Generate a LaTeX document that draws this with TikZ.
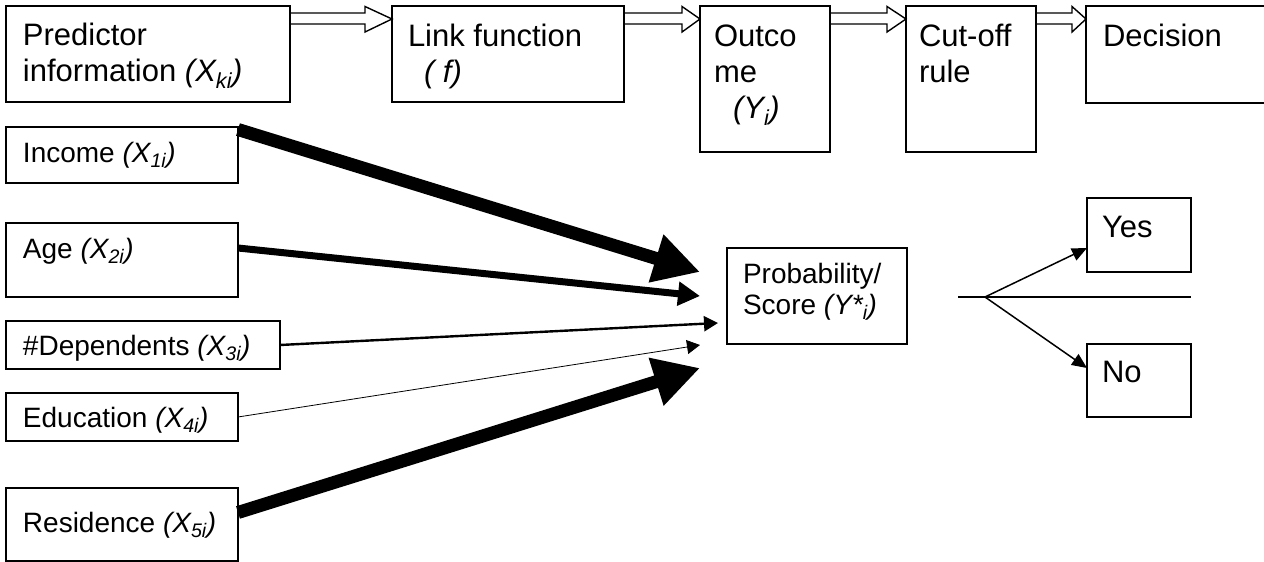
\documentclass[tikz,border=0pt]{standalone}
\usepackage{fontspec}
\setmainfont{Liberation Sans}
\usetikzlibrary{arrows.meta,calc}
\newcommand{\hollowarrow}[3]{%
  \draw[hollow] ($(#1.north east)+(0,7)$) -- ($(#2.north west)+(-#3,7)$)
    -- ($(#2.north west)+(-#3,0.5)$) -- ($(#2.north west)+(0,13)$)
    -- ($(#2.north west)+(-#3,26)$) -- ($(#2.north west)+(-#3,18)$)
    -- ($(#1.north east)+(0,18)$);}
\begin{document}
\begin{tikzpicture}[x=1pt,y=-1pt,
  box/.style={draw, line width=1.4pt, inner sep=0pt, outer sep=0pt, anchor=north west},
  big/.style={font=\fontsize{31}{35}\selectfont},
  small/.style={font=\fontsize{28}{32}\selectfont},
  txt/.style={anchor=base west, inner sep=0pt, outer sep=0pt},
  hollow/.style={draw, line width=1.4pt, line join=miter},
  conn/.style={draw, line join=miter}]
\useasboundingbox (0,0) rectangle (1264,562);

% top row boxes
\node[box, minimum width=284pt, minimum height=96pt] (pred) at (6,6) {};
\node[box, minimum width=232pt, minimum height=96pt] (link) at (392,6) {};
\node[box, minimum width=130pt, minimum height=146pt] (outc) at (700,6) {};
\node[box, minimum width=130pt, minimum height=146pt] (cut) at (906,6) {};
\node[box, minimum width=200pt, minimum height=97pt] (dec) at (1086,6) {};

% predictor boxes
\node[box, minimum width=232pt, minimum height=56pt] (inc) at (6,127) {};
\node[box, minimum width=232pt, minimum height=74pt] (age) at (6,223) {};
\node[box, minimum width=274pt, minimum height=48pt] (dep) at (6,321) {};
\node[box, minimum width=232pt, minimum height=48pt] (edu) at (6,393) {};
\node[box, minimum width=232pt, minimum height=73pt] (res) at (6,488) {};

% score and decision boxes
\node[box, minimum width=180pt, minimum height=96pt] (prob) at (727,248) {};
\node[box, minimum width=104pt, minimum height=74pt] (yes) at (1087,198) {};
\node[box, minimum width=104pt, minimum height=73pt] (no) at (1087,344) {};

% texts
\node[txt, big] (predA) at (23,45.7) {Predictor};
\node[txt, big] (predB) at (23,81.7) {information \textit{(X\textsubscript{ki})}};
\node[txt, big] (linkA) at (408,46) {Link function};
\node[txt, big] (linkB) at (424,82) {\textit{( f)}};
\node[txt, big] (outcA) at (714,46) {Outco};
\node[txt, big] (outcB) at (714,82) {me};
\node[txt, big] (outcC) at (733,118) {\textit{(Y\textsubscript{i})}};
\node[txt, big] (cutA) at (919,46) {Cut-off};
\node[txt, big] (cutB) at (919,82) {rule};
\node[txt, big] (decA) at (1103,46) {Decision};
\node[txt, small] (incT) at (23,162) {Income \textit{(X\textsubscript{1i})}};
\node[txt, small] (ageT) at (23,258) {Age \textit{(X\textsubscript{2i})}};
\node[txt, small] (depT) at (23,355) {\#Dependents \textit{(X\textsubscript{3i})}};
\node[txt, small] (eduT) at (23,427) {Education \textit{(X\textsubscript{4i})}};
\node[txt, small] (resT) at (23,532) {Residence \textit{(X\textsubscript{5i})}};
\node[txt, small] (probA) at (743,283) {Probability/};
\node[txt, small] (probB) at (743,314) {Score \textit{(Y*\textsubscript{i})}};
\node[txt, big] (yesT) at (1102,237) {Yes};
\node[txt, big] (noT) at (1102,382) {No};

% hollow block arrows
\hollowarrow{pred}{link}{27}
\hollowarrow{link}{outc}{18}
\hollowarrow{outc}{cut}{19}
\hollowarrow{cut}{dec}{14}

% weighted arrows to the score
\coordinate (t1) at (700,272);
\coordinate (t2) at (700,296);
\coordinate (t3) at (718,323);
\coordinate (t4) at (700,345);
\coordinate (t5) at (700,368);
\draw[conn, line width=13pt, -{Triangle[length=46pt,width=47pt]}] ([yshift=-2.5pt]inc.north east) -- (t1);
\draw[conn, line width=7pt, -{Triangle[length=22pt,width=23pt]}] ([yshift=-25pt]age.north east) -- (t2);
\draw[conn, line width=2.4pt, -{Triangle[length=14pt,width=15pt]}] (dep.east) -- (t3);
\draw[conn, line width=0.8pt, -{Triangle[length=13pt,width=14pt]}] (edu.east) -- (t4);
\draw[conn, line width=13pt, -{Triangle[length=46pt,width=47pt]}] ([yshift=-24.5pt]res.north east) -- (t5);

% cut-off branching
\coordinate (bl) at (958,297);
\coordinate (bp) at (985,297);
\coordinate (br) at (1191,297);
\draw[line width=1.5pt] (bl) -- (br);
\draw[line width=1.5pt, -{Triangle[length=15pt,width=13pt]}] (bp) -- ([yshift=-13pt]yes.west);
\draw[line width=1.5pt, -{Triangle[length=15pt,width=13pt]}] (bp) -- ([yshift=12.5pt]no.west);
\end{tikzpicture}
\end{document}
